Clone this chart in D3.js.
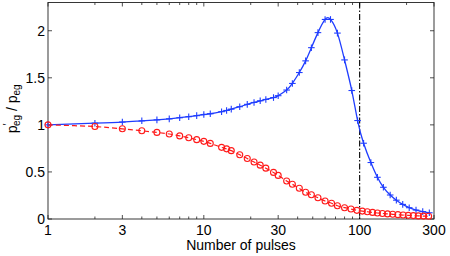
<!DOCTYPE html>
<html><head><meta charset="utf-8">
<script src="https://cdn.jsdelivr.net/npm/d3@7"></script>
<style>html,body{margin:0;padding:0;background:#fff;}</style>
</head><body>
<script>
// ---- data ----
const xBlue = [1,2,3,4,5,6,7,8,9,10,11,13,14,15,17,19,21,23,25,28,30,34,37,41,45,49,54,60,65,72,80,89,97,106,118,130,142,157,172,189,208,230,254,280];
const yBlue = [1.0,1.018,1.03,1.043,1.053,1.064,1.076,1.087,1.098,1.11,1.118,1.14,1.153,1.167,1.193,1.218,1.238,1.256,1.27,1.29,1.31,1.37,1.44,1.556,1.68,1.82,1.98,2.12,2.12,1.975,1.69,1.365,1.046,0.805,0.60,0.443,0.337,0.255,0.200,0.155,0.120,0.095,0.078,0.066];
const xRed = [1,2,3,4,5,6,7,8,9,10,11,13,14,15,17,19,21,23,25,28,30,34,37,41,45,49,54,60,66,72,80,88,96,104,112,121,130,140,151,163,176,190,205,221,238,257,277];
const yRed = [1.0,0.982,0.958,0.937,0.92,0.903,0.883,0.863,0.843,0.825,0.803,0.761,0.745,0.726,0.683,0.642,0.606,0.572,0.54,0.495,0.463,0.404,0.369,0.326,0.284,0.258,0.226,0.191,0.167,0.141,0.12,0.106,0.092,0.084,0.077,0.07,0.064,0.059,0.054,0.05,0.046,0.042,0.039,0.036,0.033,0.031,0.029];
const xTickMajor = [1,3,10,30,100,300];
const xTickMinor = [2,4,5,6,7,8,9,20,40,50,60,70,80,90,200];
const yTicks = [0,0.5,1,1.5,2];
const yTickLabels = ["0","0.5","1","1.5","2"];
const xMarkerLine = 100;
const xLabel = "Number of pulses";

// ---- layout ----
const W = 450, H = 256;
const L = 48, R = 434, T = 2.5, B = 219;
const svg = d3.select("body").append("svg").attr("width", W).attr("height", H)
  .style("font-family", "'Liberation Sans', Arial, Helvetica, sans-serif");
svg.append("rect").attr("width", W).attr("height", H).attr("fill", "#fff");

const x = d3.scaleLog().domain([1, 300]).range([L, R]);
const y = d3.scaleLinear().domain([0, 2.3]).range([B, T]);

// box
const axisCol = "#222";
svg.append("rect").attr("x", L).attr("y", T).attr("width", R - L).attr("height", B - T)
  .attr("fill", "none").attr("stroke", axisCol).attr("stroke-width", 0.9);

// ticks
const tk = svg.append("g").attr("stroke", axisCol).attr("stroke-width", 0.8);
xTickMajor.forEach(v => {
  tk.append("line").attr("x1", x(v)).attr("x2", x(v)).attr("y1", B).attr("y2", B - 4);
  tk.append("line").attr("x1", x(v)).attr("x2", x(v)).attr("y1", T).attr("y2", T + 4);
});
xTickMinor.forEach(v => {
  tk.append("line").attr("x1", x(v)).attr("x2", x(v)).attr("y1", B).attr("y2", B - 2.5);
  tk.append("line").attr("x1", x(v)).attr("x2", x(v)).attr("y1", T).attr("y2", T + 2.5);
});
yTicks.forEach(v => {
  tk.append("line").attr("x1", L).attr("x2", L + 4).attr("y1", y(v)).attr("y2", y(v));
  tk.append("line").attr("x1", R).attr("x2", R - 4).attr("y1", y(v)).attr("y2", y(v));
});

// tick labels
svg.append("g").selectAll("text").data(xTickMajor).join("text")
  .attr("x", d => x(d)).attr("y", 235).attr("text-anchor", "middle")
  .attr("font-size", 14).attr("fill", "#000").text(d => d);
svg.append("g").selectAll("text").data(yTicks).join("text")
  .attr("x", L - 3).attr("y", d => y(d)).attr("dy", "0.36em").attr("text-anchor", "end")
  .attr("font-size", 14).attr("fill", "#000").text((d, i) => yTickLabels[i]);

// axis labels
svg.append("text").attr("x", (L + R) / 2).attr("y", 250).attr("text-anchor", "middle")
  .attr("font-size", 14).attr("fill", "#000").text(xLabel);
const yl = svg.append("text").attr("transform", `translate(17,${(T + B) / 2 - 2}) rotate(-90)`)
  .attr("text-anchor", "middle").attr("font-size", 14).attr("fill", "#000");
yl.append("tspan").text("p");
yl.append("tspan").attr("font-size", 10).attr("dy", -6).text("′");
yl.append("tspan").attr("font-size", 10).attr("dy", 9).attr("dx", -2.5).text("eg");
yl.append("tspan").attr("dy", -3).text(" / p");
yl.append("tspan").attr("font-size", 10).attr("dy", 3).text("eg");

// vertical dash-dot line
svg.append("line").attr("x1", x(xMarkerLine)).attr("x2", x(xMarkerLine)).attr("y1", T).attr("y2", B)
  .attr("stroke", "#000").attr("stroke-width", 1.1).attr("stroke-dasharray", "6,2,1.5,2");

// blue series
const blueCol = "#1f3dff", redCol = "#ff1a1a";
const blue = xBlue.map((d, i) => [d, yBlue[i]]);
const red = xRed.map((d, i) => [d, yRed[i]]);
const lineBlue = d3.line().x(d => x(d[0])).y(d => y(d[1])).curve(d3.curveNatural);
const lineRed = d3.line().x(d => x(d[0])).y(d => y(d[1])).curve(d3.curveCatmullRom.alpha(0.5));
svg.append("path").attr("d", lineBlue(blue)).attr("fill", "none").attr("stroke", blueCol).attr("stroke-width", 1.3);
const pl = svg.append("g").attr("stroke", blueCol).attr("stroke-width", 1.1);
blue.forEach(d => {
  const cx = x(d[0]), cy = y(d[1]), s = 3.3;
  pl.append("line").attr("x1", cx - s).attr("x2", cx + s).attr("y1", cy).attr("y2", cy);
  pl.append("line").attr("x1", cx).attr("x2", cx).attr("y1", cy - s).attr("y2", cy + s);
});

// red series
svg.append("path").attr("d", lineRed(red)).attr("fill", "none").attr("stroke", redCol)
  .attr("stroke-width", 1.2).attr("stroke-dasharray", "5,3");
svg.append("g").selectAll("circle").data(red).join("circle")
  .attr("cx", d => x(d[0])).attr("cy", d => y(d[1])).attr("r", 3)
  .attr("fill", "none").attr("stroke", redCol).attr("stroke-width", 1.1);
</script>
</body></html>
